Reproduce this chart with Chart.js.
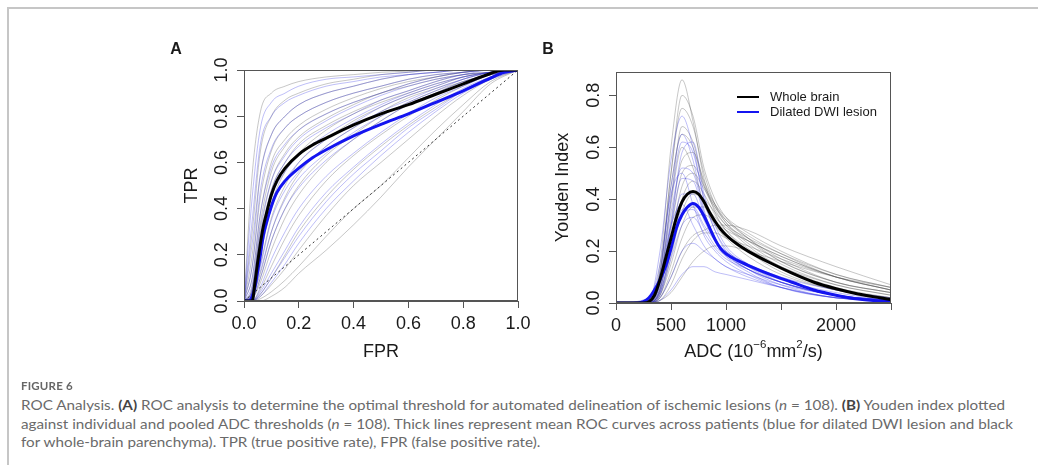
<!DOCTYPE html>
<html>
<head>
<meta charset="utf-8">
<script src="https://cdn.jsdelivr.net/npm/chart.js@4.4.0/dist/chart.umd.min.js"></script>
<style>
  body { margin: 0; width: 1038px; height: 465px; background: #fff; position: relative; overflow: hidden; }
  #frame { position: absolute; left: 7px; top: 7px; width: 1100px; height: 500px;
           border-top: 2px solid #c6c6c6; border-left: 2px solid #c6c6c6; }
  #wrapA { position: absolute; left: 0; top: 0; }
  #wrapB { position: absolute; left: 530px; top: 0; }
  .cap { position: absolute; left: 21px; white-space: nowrap; font-family: Lato, "Open Sans", sans-serif;
         color: #6a6a6a; font-size: 14px; font-weight: 400; line-height: 18px; transform-origin: 0 50%; }
  .cap b { color: #444; font-weight: 700; }
  #figno { position: absolute; left: 21px; top: 379px; font-family: Lato, "Open Sans", sans-serif;
           font-size: 11.5px; font-weight: 700; color: #666; letter-spacing: 0.2px; }
</style>
</head>
<body>
<div id="frame"></div>
<div id="wrapA"><canvas id="rocChart" width="540" height="380"></canvas></div>
<div id="wrapB"><canvas id="youdenChart" width="508" height="380"></canvas></div>
<div id="figno">FIGURE 6</div>
<div class="cap" style="top:396px">ROC Analysis. <b>(A)</b> ROC analysis to determine the optimal threshold for automated delineation of ischemic lesions (<i>n</i> = 108). <b>(B)</b> Youden index plotted</div>
<div class="cap" style="top:414.5px">against individual and pooled ADC thresholds (<i>n</i> = 108). Thick lines represent mean ROC curves across patients (blue for dilated DWI lesion and black</div>
<div class="cap" style="top:433px">for whole-brain parenchyma). TPR (true positive rate), FPR (false positive rate).</div>

<script>
// ---- panel A : ROC curves ----
const fprTicks = [0, 0.2, 0.4, 0.6, 0.8, 1];
const tprTicks = [0, 0.2, 0.4, 0.6, 0.8, 1];

// mean curves
const meanFpr = [0, 0.01, 0.02, 0.03, 0.04, 0.05, 0.06, 0.07, 0.08, 0.1, 0.12, 0.15, 0.2, 0.25, 0.3, 0.4, 0.5, 0.6, 0.7, 0.8, 0.9, 0.95, 1];
const meanTprWhole  = [0, 0, 0, 0, 0.08, 0.17, 0.25, 0.32, 0.37, 0.46, 0.52, 0.575, 0.635, 0.675, 0.705, 0.762, 0.81, 0.85, 0.895, 0.94, 0.985, 1, 1];
const meanTprLesion = [0, 0, 0, 0.02, 0.06, 0.13, 0.2, 0.28, 0.33, 0.41, 0.47, 0.52, 0.575, 0.62, 0.655, 0.715, 0.765, 0.81, 0.86, 0.91, 0.965, 0.99, 1];

// individual patients (a subset), read on a common FPR grid
const patFpr = [0, 0.03, 0.06, 0.1, 0.15, 0.2, 0.3, 0.4, 0.5, 0.6, 0.7, 0.8, 0.9, 1];
const rocWholePatients = [
  [0, 0.55, 0.82, 0.9, 0.93, 0.95, 0.97, 0.98, 0.99, 0.995, 1, 1, 1, 1],
  [0, 0.3, 0.65, 0.8, 0.87, 0.9, 0.94, 0.96, 0.98, 0.99, 1, 1, 1, 1],
  [0, 0.2, 0.55, 0.72, 0.8, 0.85, 0.9, 0.93, 0.96, 0.98, 0.99, 1, 1, 1],
  [0, 0.15, 0.45, 0.65, 0.75, 0.8, 0.86, 0.9, 0.93, 0.96, 0.98, 0.99, 1, 1],
  [0, 0.1, 0.38, 0.6, 0.7, 0.76, 0.83, 0.88, 0.92, 0.95, 0.97, 0.99, 1, 1],
  [0, 0.06, 0.34, 0.56, 0.67, 0.74, 0.81, 0.86, 0.9, 0.94, 0.97, 0.99, 1, 1],
  [0, 0.05, 0.3, 0.52, 0.64, 0.71, 0.79, 0.85, 0.9, 0.93, 0.96, 0.98, 0.99, 1],
  [0, 0.04, 0.25, 0.48, 0.6, 0.68, 0.76, 0.82, 0.87, 0.91, 0.95, 0.98, 0.99, 1],
  [0, 0.03, 0.2, 0.42, 0.56, 0.64, 0.74, 0.81, 0.86, 0.9, 0.94, 0.97, 0.99, 1],
  [0, 0.02, 0.16, 0.36, 0.5, 0.6, 0.7, 0.78, 0.84, 0.89, 0.93, 0.97, 0.99, 1],
  [0, 0.02, 0.12, 0.3, 0.45, 0.55, 0.67, 0.75, 0.82, 0.88, 0.92, 0.96, 0.99, 1],
  [0, 0.01, 0.1, 0.26, 0.4, 0.5, 0.63, 0.72, 0.8, 0.86, 0.91, 0.95, 0.98, 1],
  [0, 0.01, 0.08, 0.22, 0.36, 0.46, 0.6, 0.7, 0.78, 0.85, 0.9, 0.95, 0.98, 1],
  [0, 0, 0.05, 0.15, 0.27, 0.37, 0.52, 0.63, 0.72, 0.8, 0.87, 0.93, 0.98, 1],
  [0, 0, 0.03, 0.1, 0.2, 0.3, 0.45, 0.57, 0.67, 0.76, 0.84, 0.91, 0.97, 1],
  [0, 0, 0.02, 0.07, 0.14, 0.22, 0.37, 0.5, 0.6, 0.7, 0.8, 0.89, 0.96, 1],
  [0, 0, 0.01, 0.04, 0.09, 0.15, 0.28, 0.4, 0.5, 0.62, 0.74, 0.85, 0.95, 1],
  [0, 0, 0, 0.02, 0.06, 0.12, 0.22, 0.33, 0.45, 0.58, 0.7, 0.82, 0.94, 1]
];
const rocLesionPatients = [
  [0, 0.45, 0.75, 0.86, 0.9, 0.93, 0.96, 0.97, 0.98, 0.99, 1, 1, 1, 1],
  [0, 0.35, 0.68, 0.8, 0.86, 0.89, 0.93, 0.95, 0.97, 0.98, 0.99, 1, 1, 1],
  [0, 0.25, 0.55, 0.72, 0.8, 0.85, 0.9, 0.93, 0.96, 0.98, 0.99, 1, 1, 1],
  [0, 0.15, 0.48, 0.66, 0.75, 0.8, 0.86, 0.9, 0.93, 0.96, 0.98, 0.99, 1, 1],
  [0, 0.1, 0.38, 0.58, 0.68, 0.74, 0.81, 0.86, 0.9, 0.94, 0.97, 0.99, 1, 1],
  [0, 0.07, 0.32, 0.52, 0.63, 0.7, 0.78, 0.84, 0.89, 0.93, 0.96, 0.98, 1, 1],
  [0, 0.05, 0.28, 0.48, 0.6, 0.67, 0.75, 0.81, 0.87, 0.91, 0.95, 0.98, 0.99, 1],
  [0, 0.04, 0.25, 0.45, 0.56, 0.63, 0.72, 0.79, 0.85, 0.9, 0.94, 0.97, 0.99, 1],
  [0, 0.03, 0.2, 0.4, 0.52, 0.6, 0.7, 0.77, 0.84, 0.89, 0.93, 0.97, 0.99, 1],
  [0, 0.02, 0.15, 0.35, 0.48, 0.56, 0.67, 0.75, 0.82, 0.87, 0.92, 0.96, 0.99, 1],
  [0, 0.02, 0.13, 0.3, 0.44, 0.53, 0.64, 0.73, 0.8, 0.86, 0.91, 0.96, 0.99, 1],
  [0, 0.01, 0.1, 0.26, 0.4, 0.49, 0.61, 0.7, 0.78, 0.85, 0.9, 0.95, 0.98, 1],
  [0, 0, 0.06, 0.18, 0.3, 0.4, 0.54, 0.64, 0.73, 0.81, 0.88, 0.93, 0.98, 1],
  [0, 0, 0.04, 0.12, 0.22, 0.32, 0.47, 0.58, 0.68, 0.77, 0.85, 0.92, 0.97, 1],
  [0, 0, 0.03, 0.1, 0.19, 0.28, 0.43, 0.55, 0.65, 0.75, 0.83, 0.91, 0.97, 1],
  [0, 0, 0.02, 0.08, 0.16, 0.25, 0.4, 0.52, 0.63, 0.73, 0.82, 0.9, 0.96, 1]
];

// ---- panel B : Youden index vs ADC ----
const adcTicks = [0, 500, 1000, 1500, 2000, 2500];
const adcTickLabels = ['0', '500', '1000', '', '2000', ''];
const youdenTicks = [0, 0.2, 0.4, 0.6, 0.8];

const meanAdc = [0, 200, 250, 300, 350, 400, 450, 500, 550, 600, 650, 700, 750, 800, 850, 900, 950, 1000, 1100, 1200, 1400, 1600, 1800, 2000, 2200, 2400, 2500];
const meanYoudenWhole  = [0, 0, 0, 0.005, 0.03, 0.09, 0.17, 0.25, 0.33, 0.39, 0.42, 0.43, 0.42, 0.39, 0.35, 0.315, 0.285, 0.262, 0.227, 0.2, 0.155, 0.115, 0.08, 0.055, 0.035, 0.02, 0.013];
const meanYoudenLesion = [0, 0, 0.005, 0.02, 0.05, 0.09, 0.14, 0.21, 0.29, 0.34, 0.37, 0.383, 0.37, 0.335, 0.29, 0.245, 0.21, 0.19, 0.165, 0.145, 0.11, 0.08, 0.05, 0.03, 0.015, 0.007, 0.005];

const patAdc = [0, 300, 400, 500, 600, 700, 800, 900, 1000, 1200, 1500, 2000, 2500];
const youdenWholePatients = [
  [0, 0, 0.15, 0.6, 0.86, 0.7, 0.48, 0.35, 0.28, 0.2, 0.12, 0.05, 0.02],
  [0, 0, 0.12, 0.5, 0.8, 0.72, 0.52, 0.4, 0.33, 0.25, 0.16, 0.08, 0.04],
  [0, 0, 0.1, 0.5, 0.75, 0.68, 0.5, 0.38, 0.31, 0.23, 0.15, 0.07, 0.03],
  [0, 0, 0.08, 0.4, 0.68, 0.62, 0.46, 0.37, 0.31, 0.24, 0.16, 0.08, 0.04],
  [0, 0.01, 0.12, 0.45, 0.65, 0.6, 0.45, 0.36, 0.3, 0.22, 0.14, 0.06, 0.02],
  [0, 0.01, 0.08, 0.38, 0.6, 0.52, 0.38, 0.3, 0.25, 0.18, 0.11, 0.05, 0.02],
  [0, 0, 0.06, 0.32, 0.55, 0.58, 0.47, 0.38, 0.32, 0.25, 0.17, 0.08, 0.04],
  [0, 0, 0.05, 0.28, 0.5, 0.53, 0.45, 0.38, 0.33, 0.27, 0.2, 0.11, 0.06],
  [0, 0, 0.05, 0.25, 0.45, 0.5, 0.44, 0.37, 0.32, 0.26, 0.19, 0.1, 0.05],
  [0, 0, 0.04, 0.2, 0.4, 0.47, 0.42, 0.34, 0.28, 0.21, 0.14, 0.07, 0.03],
  [0, 0, 0.03, 0.18, 0.35, 0.42, 0.4, 0.35, 0.3, 0.25, 0.19, 0.11, 0.06],
  [0, 0, 0.03, 0.15, 0.3, 0.37, 0.37, 0.33, 0.29, 0.24, 0.18, 0.1, 0.05],
  [0, 0, 0.02, 0.12, 0.25, 0.33, 0.34, 0.31, 0.28, 0.24, 0.18, 0.1, 0.05],
  [0, 0, 0.01, 0.07, 0.17, 0.24, 0.27, 0.27, 0.25, 0.22, 0.17, 0.1, 0.05],
  [0, 0, 0.02, 0.1, 0.2, 0.26, 0.28, 0.3, 0.3, 0.28, 0.22, 0.14, 0.07],
  [0, 0, 0.01, 0.04, 0.1, 0.16, 0.2, 0.22, 0.22, 0.2, 0.16, 0.1, 0.06]
];
const youdenLesionPatients = [
  [0, 0.01, 0.2, 0.55, 0.72, 0.6, 0.4, 0.28, 0.2, 0.13, 0.07, 0.02, 0.01],
  [0, 0, 0.12, 0.45, 0.65, 0.55, 0.36, 0.25, 0.18, 0.12, 0.06, 0.02, 0.01],
  [0, 0, 0.1, 0.4, 0.62, 0.58, 0.4, 0.28, 0.21, 0.14, 0.08, 0.03, 0.01],
  [0, 0, 0.06, 0.3, 0.58, 0.62, 0.42, 0.3, 0.22, 0.15, 0.08, 0.03, 0.01],
  [0, 0, 0.08, 0.35, 0.52, 0.5, 0.35, 0.25, 0.19, 0.13, 0.08, 0.03, 0.01],
  [0, 0.02, 0.15, 0.42, 0.5, 0.38, 0.26, 0.2, 0.16, 0.11, 0.06, 0.02, 0.01],
  [0, 0, 0.07, 0.3, 0.48, 0.47, 0.34, 0.25, 0.19, 0.13, 0.08, 0.03, 0.01],
  [0, 0, 0.05, 0.25, 0.42, 0.42, 0.32, 0.24, 0.19, 0.14, 0.09, 0.04, 0.01],
  [0, 0.01, 0.1, 0.3, 0.38, 0.3, 0.22, 0.17, 0.14, 0.1, 0.06, 0.02, 0.01],
  [0, 0, 0.04, 0.2, 0.36, 0.37, 0.3, 0.24, 0.2, 0.15, 0.1, 0.05, 0.02],
  [0, 0, 0.04, 0.2, 0.34, 0.36, 0.29, 0.22, 0.18, 0.13, 0.08, 0.03, 0.01],
  [0, 0, 0.03, 0.17, 0.3, 0.33, 0.27, 0.21, 0.17, 0.13, 0.08, 0.03, 0.01],
  [0, 0, 0.02, 0.1, 0.2, 0.23, 0.2, 0.17, 0.14, 0.11, 0.07, 0.03, 0.01],
  [0, 0, 0.01, 0.05, 0.11, 0.14, 0.14, 0.12, 0.11, 0.09, 0.06, 0.02, 0.01]
];

const FONT = '"Liberation Sans", Arial, sans-serif';
const AXIS = '#555';
const INK = '#1a1a1a';
const THIN_GREY = 'rgba(70,70,70,0.3)';
const THIN_BLUE = 'rgba(40,40,230,0.3)';

function toPoints(xs, ys) {
  return xs.map((x, i) => ({ x, y: ys[i] }));
}

function thinSets(xs, curves, color) {
  return curves.map(c => ({
    data: toPoints(xs, c),
    borderColor: color,
    borderWidth: 1,
    pointRadius: 0,
    cubicInterpolationMode: 'monotone',
    order: 3
  }));
}

function meanSet(label, xs, ys, color) {
  return {
    label,
    data: toPoints(xs, ys),
    borderColor: color,
    borderWidth: 3,
    pointRadius: 0,
    cubicInterpolationMode: 'monotone',
    order: 0
  };
}

function scales(o) {
  return {
    x: {
      type: 'linear', min: o.xMin, max: o.xMax,
      afterBuildTicks: s => { s.ticks = o.xTicks.map(v => ({ value: v })); },
      afterFit: s => { s.height = o.xHeight; },
      ticks: {
        autoSkip: false, maxRotation: 0, padding: 5, color: INK,
        font: { family: FONT, size: 18 },
        callback: o.xLabel
      },
      grid: { drawOnChartArea: false, color: AXIS, tickLength: 7 },
      border: { color: AXIS }
    },
    y: {
      type: 'linear', min: o.yMin, max: o.yMax,
      afterBuildTicks: s => { s.ticks = o.yTicks.map(v => ({ value: v })); },
      afterFit: s => { s.width = o.yWidth; },
      ticks: { display: false },
      grid: { drawOnChartArea: false, color: AXIS, tickLength: 7 },
      border: { color: AXIS }
    }
  };
}

// box, rotated y tick labels, titles, panel letter
function decor(o) {
  return {
    id: 'decor',
    afterDraw(chart) {
      const ctx = chart.ctx, ca = chart.chartArea, ys = chart.scales.y;
      ctx.save();
      ctx.strokeStyle = AXIS;
      ctx.lineWidth = 1;
      ctx.strokeRect(ca.left + 0.5, ca.top + 0.5, ca.width - 1, ca.height - 1);

      ctx.fillStyle = INK;
      ctx.font = '18px ' + FONT;
      ctx.textAlign = 'center';
      ctx.textBaseline = 'middle';
      ys.ticks.forEach(t => {
        ctx.save();
        ctx.translate(ca.left - 22, ys.getPixelForValue(t.value));
        ctx.rotate(-Math.PI / 2);
        ctx.fillText(t.value.toFixed(1), 0, 0);
        ctx.restore();
      });

      // y title
      ctx.save();
      ctx.translate(o.yTitleX, (ca.top + ca.bottom) / 2);
      ctx.rotate(-Math.PI / 2);
      ctx.fillText(o.yTitle, 0, 0);
      ctx.restore();

      // x title
      o.drawXTitle(ctx, (ca.left + ca.right) / 2, 352);

      // panel letter
      ctx.font = 'bold 16px ' + FONT;
      ctx.fillText(o.letter, o.letterX, 50);

      if (o.legend) o.legend(chart, ctx);
      ctx.restore();
    }
  };
}

function simpleTitle(text) {
  return (ctx, x, y) => { ctx.fillText(text, x, y); };
}

function adcTitle(ctx, x, y) {
  const big = '18px ' + FONT, small = '11.5px ' + FONT;
  const parts = [['ADC (10', big, 0], ['\u22126', small, -7], ['mm', big, 0], ['2', small, -7], ['/s)', big, 0]];
  let w = 0;
  parts.forEach(p => { ctx.font = p[1]; w += ctx.measureText(p[0]).width; });
  let cx = x - w / 2;
  ctx.textAlign = 'left';
  parts.forEach(p => {
    ctx.font = p[1];
    ctx.fillText(p[0], cx, y + p[2]);
    cx += ctx.measureText(p[0]).width;
  });
  ctx.textAlign = 'center';
}

function youdenLegend(chart, ctx) {
  const sets = chart.data.datasets.filter(d => d.label);
  ctx.font = '13px ' + FONT;
  ctx.textAlign = 'left';
  sets.forEach((d, i) => {
    const y = 97 + i * 15;
    ctx.strokeStyle = d.borderColor;
    ctx.lineWidth = 2;
    ctx.beginPath();
    ctx.moveTo(207, y);
    ctx.lineTo(229, y);
    ctx.stroke();
    ctx.fillStyle = INK;
    ctx.fillText(d.label, 240, y);
  });
}

const baseOptions = {
  responsive: false,
  animation: false,
  events: [],
  plugins: { legend: { display: false }, tooltip: { enabled: false } }
};

new Chart(document.getElementById('rocChart'), {
  type: 'line',
  data: {
    datasets: [
      meanSet('Whole brain', meanFpr, meanTprWhole, '#000000'),
      meanSet('Dilated DWI lesion', meanFpr, meanTprLesion, '#1414f0'),
      {
        data: toPoints([0, 1], [0, 1]),
        borderColor: '#333', borderWidth: 1, borderDash: [2, 3], pointRadius: 0, order: 1
      },
      ...thinSets(patFpr, rocLesionPatients, THIN_BLUE),
      ...thinSets(patFpr, rocWholePatients, THIN_GREY)
    ]
  },
  options: {
    ...baseOptions,
    layout: { padding: { left: 0, right: 22, top: 70, bottom: 0 } },
    scales: scales({
      xMin: 0, xMax: 1, xTicks: fprTicks, xHeight: 79, xLabel: v => v.toFixed(1),
      yMin: 0, yMax: 1, yTicks: tprTicks, yWidth: 244
    })
  },
  plugins: [decor({
    yTitle: 'TPR', yTitleX: 192, drawXTitle: simpleTitle('FPR'),
    letter: 'A', letterX: 176
  })]
});

new Chart(document.getElementById('youdenChart'), {
  type: 'line',
  data: {
    datasets: [
      meanSet('Whole brain', meanAdc, meanYoudenWhole, '#000000'),
      meanSet('Dilated DWI lesion', meanAdc, meanYoudenLesion, '#1414f0'),
      ...thinSets(patAdc, youdenLesionPatients, THIN_BLUE),
      ...thinSets(patAdc, youdenWholePatients, THIN_GREY)
    ]
  },
  options: {
    ...baseOptions,
    layout: { padding: { left: 0, right: 147, top: 72, bottom: 0 } },
    scales: scales({
      xMin: 0, xMax: 2500, xTicks: adcTicks, xHeight: 77,
      xLabel: (v, i) => adcTickLabels[i],
      yMin: 0, yMax: 0.89, yTicks: youdenTicks, yWidth: 86
    })
  },
  plugins: [decor({
    yTitle: 'Youden Index', yTitleX: 33, drawXTitle: adcTitle,
    letter: 'B', letterX: 18, legend: youdenLegend
  })]
});

// squeeze caption lines to the measured width of the original
const caps = document.querySelectorAll('.cap');
const k = 984 / caps[0].getBoundingClientRect().width;
caps.forEach(c => { c.style.transform = 'scaleX(' + k + ')'; });
</script>
</body>
</html>
